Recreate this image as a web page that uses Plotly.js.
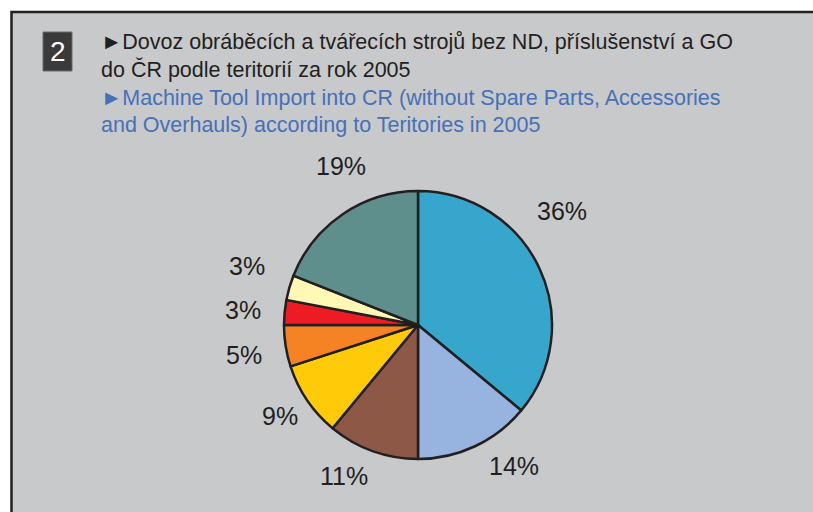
<!DOCTYPE html>
<html>
<head>
<meta charset="utf-8">
<script src="https://cdn.plot.ly/plotly-3.0.1.min.js"></script>
<style>
html,body{margin:0;padding:0;background:#ffffff;}
#chart{width:813px;height:512px;}
</style>
</head>
<body>
<div id="chart"></div>
<script>
// ---- data ----
const territories = ['Teritorie 1','Teritorie 2','Teritorie 3','Teritorie 4','Teritorie 5','Teritorie 6','Teritorie 7','Teritorie 8'];
const shares = [36, 14, 11, 9, 5, 3, 3, 19];
const sliceColors = ['#37a6cc','#96b4df','#8d5846','#ffcb08','#f58323','#ed1c24','#fff9b5','#5f8f8c'];
const titleCz = ['\u25BADovoz obráběcích a tvářecích strojů bez ND, příslušenství a GO', 'do ČR podle teritorií za rok 2005'];
const titleEn = ['\u25BAMachine Tool Import into CR (without Spare Parts, Accessories', 'and Overhauls) according to Teritories in 2005'];
const panelNumber = '2';

// ---- layout helpers (pixels -> paper) ----
const W = 813, H = 512;
const px = x => x / W;
const py = y => 1 - y / H;
const pieCx = 418, pieCy = 325, pieR = 134;
const labelX = [562, 514, 344, 280, 244, 243, 247, 341];
const labelY = [211, 466, 476, 416, 355, 310, 266, 166];
const titleX = 99;
const titleYCz = [42, 69.5];
const titleYEn = [97.5, 124.5];
const ink = '#231f20';
const blue = '#4571b8';
const FONT = 'Liberation Sans, Arial, Helvetica, sans-serif';

const trace = {
  type: 'pie',
  labels: territories,
  values: shares,
  sort: false,
  direction: 'clockwise',
  rotation: 0,
  textinfo: 'none',
  hoverinfo: 'label+percent',
  marker: { colors: sliceColors, line: { color: ink, width: 2.5 } },
  domain: { x: [px(pieCx - pieR), px(pieCx + pieR)], y: [py(pieCy + pieR), py(pieCy - pieR)] },
  showlegend: false
};

const annotations = [];
shares.forEach((v, i) => {
  annotations.push({
    xref: 'paper', yref: 'paper', x: px(labelX[i]), y: py(labelY[i]),
    xanchor: 'center', yanchor: 'middle', showarrow: false,
    text: v + '%', font: { family: FONT, size: 25, color: ink }
  });
});
titleCz.forEach((t, i) => annotations.push({
  xref: 'paper', yref: 'paper', x: px(titleX), y: py(titleYCz[i]),
  xanchor: 'left', yanchor: 'middle', showarrow: false, align: 'left',
  text: t, font: { family: FONT, size: 21.5, color: ink }
}));
titleEn.forEach((t, i) => annotations.push({
  xref: 'paper', yref: 'paper', x: px(titleX), y: py(titleYEn[i]),
  xanchor: 'left', yanchor: 'middle', showarrow: false, align: 'left',
  text: t, font: { family: FONT, size: 21.5, color: blue }
}));
annotations.push({
  xref: 'paper', yref: 'paper', x: px(57.5), y: py(51),
  xanchor: 'center', yanchor: 'middle', showarrow: false,
  text: panelNumber, font: { family: FONT, size: 28, color: '#ffffff' }
});

const layout = {
  width: W, height: H,
  margin: { l: 0, r: 0, t: 0, b: 0 },
  paper_bgcolor: '#ffffff',
  plot_bgcolor: 'rgba(0,0,0,0)',
  showlegend: false,
  shapes: [
    { type: 'rect', xref: 'paper', yref: 'paper', layer: 'below',
      x0: px(11.5), x1: px(830), y0: py(530), y1: py(12),
      fillcolor: '#c8c9cb', line: { color: ink, width: 2.5 } },
    { type: 'rect', xref: 'paper', yref: 'paper', layer: 'below',
      x0: px(43), x1: px(72), y0: py(71), y1: py(32),
      fillcolor: '#3a3a3a', line: { color: '#6a6a6a', width: 1 } }
  ],
  annotations: annotations
};

Plotly.newPlot('chart', [trace], layout, { staticPlot: true, displayModeBar: false });
</script>
</body>
</html>
